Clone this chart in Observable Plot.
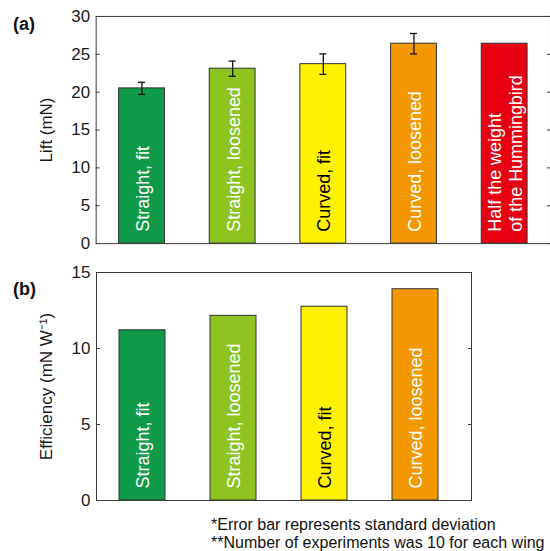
<!DOCTYPE html>
<html>
<head>
<meta charset="utf-8">
<script src="https://cdn.jsdelivr.net/npm/d3@7"></script>
<script src="https://cdn.jsdelivr.net/npm/@observablehq/plot@0.6"></script>
<style>
  html, body { margin: 0; padding: 0; background: #fff; overflow: hidden; }
  #root { position: relative; width: 550px; height: 551px; overflow: hidden; font-family: "Liberation Sans", Arial, sans-serif; color: #111; }
  .abs { position: absolute; white-space: nowrap; }
  .panel { font-size: 18px; line-height: 18px; font-weight: bold; }
  .note { font-size: 16px; line-height: 18px; }
</style>
</head>
<body>
<div id="root">
  <div id="plotA" class="abs" style="left:0;top:0"></div>
  <div id="plotB" class="abs" style="left:0;top:256px"></div>
  <div class="abs panel" style="left:13px;top:15px">(a)</div>
  <div class="abs panel" style="left:13px;top:280px">(b)</div>
  <div class="abs note" style="left:211px;top:516px">*Error bar represents standard deviation<br>**Number of experiments was 10 for each wing</div>
</div>
<script>
// ---- data ----
const categoriesA = ["Straight, fit", "Straight, loosened", "Curved, fit", "Curved, loosened", "Half the weight\nof the Hummingbird"];
const liftMean = [20.5, 23.1, 23.7, 26.4, 26.4];
const liftSD = [0.8, 1.0, 1.35, 1.35, null];
const categoriesB = ["Straight, fit", "Straight, loosened", "Curved, fit", "Curved, loosened"];
const efficiency = [11.2, 12.15, 12.75, 13.9];
const barColors = ["#0e9a48", "#8fc31f", "#fff100", "#f39800", "#e60012"];
const labelColors = ["#ffffff", "#ffffff", "#000000", "#ffffff", "#ffffff"];
const liftTicks = [0, 5, 10, 15, 20, 25, 30];
const effTicks = [0, 5, 10, 15];

const dataA = categoriesA.map((c, i) => ({cond: c, value: liftMean[i], sd: liftSD[i], color: barColors[i], tcolor: labelColors[i]}));
const dataB = categoriesB.map((c, i) => ({cond: c, value: efficiency[i], color: barColors[i], tcolor: labelColors[i]}));
const errA = dataA.filter(d => d.sd != null);

const font = "'Liberation Sans', Arial, sans-serif";
const frameColor = "#3a3a3a";

function common(ticks, label, labelOffset) {
  return [
    Plot.axisY(ticks, {anchor: "left", tickSize: -4, tickPadding: 10, fontSize: 17, fill: "#1a1a1a", stroke: frameColor,
      label: label, labelAnchor: "center", labelOffset: labelOffset, labelArrow: "none"}),
    Plot.axisY(ticks, {anchor: "right", tickSize: -4, stroke: frameColor, tickFormat: () => "", label: null}),
    Plot.frame({stroke: frameColor, strokeWidth: 1})
  ];
}

const plotA = Plot.plot({
  width: 552, height: 256,
  marginLeft: 96, marginRight: 0, marginTop: 16, marginBottom: 12,
  style: {fontFamily: font, background: "transparent", overflow: "visible"},
  x: {domain: categoriesA, paddingInner: 0.5, paddingOuter: 0.25, axis: null},
  y: {domain: [0, 30]},
  color: {type: "identity"},
  marks: [
    Plot.barY(dataA, {x: "cond", y: "value", fill: "color", stroke: "#333", strokeWidth: 1}),
    Plot.ruleX(errA, {x: "cond", y1: d => d.value - d.sd, y2: d => d.value + d.sd, stroke: "#111", strokeWidth: 1.3}),
    Plot.tickY(errA, {x: "cond", y: d => d.value + d.sd, insetLeft: 19.5, insetRight: 19.5, stroke: "#111", strokeWidth: 1.3}),
    Plot.tickY(errA, {x: "cond", y: d => d.value - d.sd, insetLeft: 19.5, insetRight: 19.5, stroke: "#111", strokeWidth: 1.3}),
    Plot.text(dataA, {x: "cond", y: () => 0, text: "cond", rotate: -90, textAnchor: "start", dy: -12,
      fill: "tcolor", fontSize: 18, lineHeight: 1.2}),
    ...common(liftTicks, "Lift (mN)", 56)
  ]
});
document.getElementById("plotA").appendChild(plotA);

const plotB = Plot.plot({
  width: 550, height: 256,
  marginLeft: 96, marginRight: 79, marginTop: 16, marginBottom: 12,
  style: {fontFamily: font, background: "transparent", overflow: "visible"},
  x: {domain: categoriesB, range: [96, 460.8], paddingInner: 0.5, paddingOuter: 0.25, axis: null},
  y: {domain: [0, 15]},
  color: {type: "identity"},
  marks: [
    Plot.barY(dataB, {x: "cond", y: "value", fill: "color", stroke: "#333", strokeWidth: 1}),
    Plot.text(dataB, {x: "cond", y: () => 0, text: "cond", rotate: -90, textAnchor: "start", dy: -12,
      fill: "tcolor", fontSize: 18, lineHeight: 1.2}),
    ...common(effTicks, "Efficiency (mN W\u207B\u00B9)", 57)
  ]
});
document.getElementById("plotB").appendChild(plotB);
</script>
</body>
</html>
